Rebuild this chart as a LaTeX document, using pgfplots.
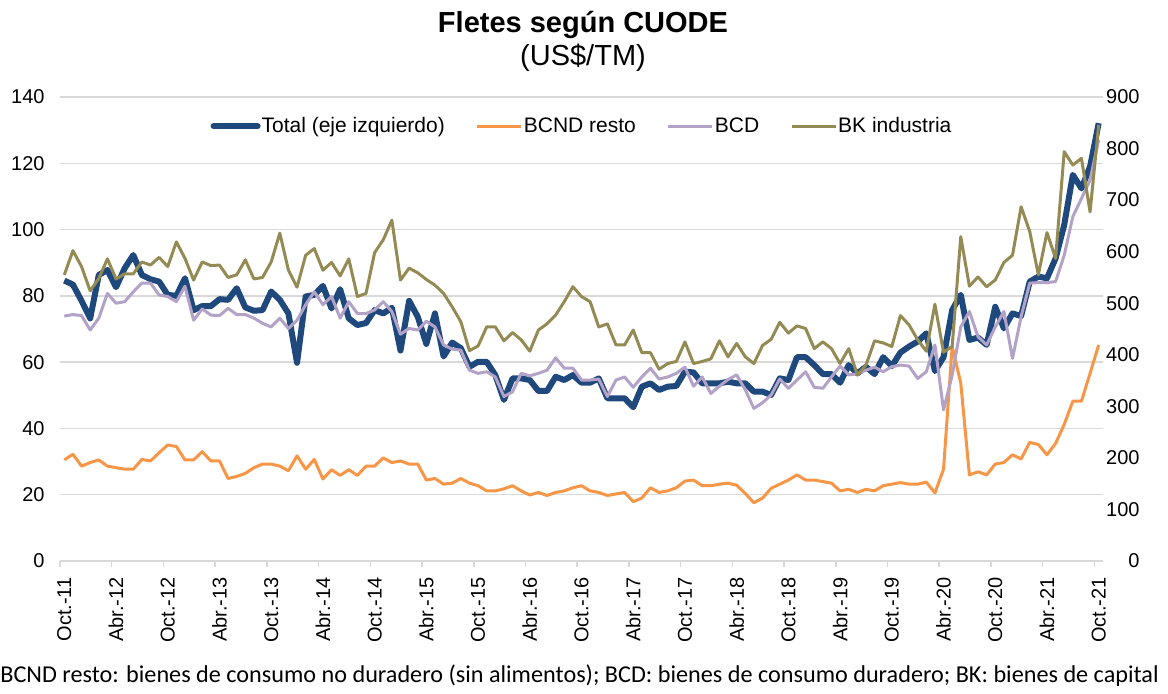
\documentclass[border=0pt]{standalone}
\usepackage{fontspec}
\setmainfont{Liberation Sans}
\newfontfamily\calibri{Carlito}
\usepackage{pgfplots}
\pgfplotsset{compat=1.18}
\usepackage{pgfplotstable}
\definecolor{ctotal}{RGB}{31,73,125}
\definecolor{cbcnd}{RGB}{247,150,70}
\definecolor{cbcd}{RGB}{179,162,199}
\definecolor{cbk}{RGB}{148,138,84}
\definecolor{cgrid}{RGB}{217,217,217}

\pgfplotstableread{
i total bcnd bcd bk
0 84.6 196 475 555
1 83.4 207 478 602
2 78.5 184 476 571
3 73.2 191 448 524
4 86.3 196 471 548
5 87.8 184 519 586
6 82.6 181 500 547
7 88.3 178 503 557
8 92.3 178 522 557
9 86.3 197 539 580
10 85.0 194 539 574
11 84.3 210 516 589
12 80.3 225 513 571
13 80.0 222 503 619
14 85.3 196 533 587
15 75.7 196 467 545
16 76.9 212 489 580
17 76.9 194 477 573
18 79.0 194 476 574
19 78.8 160 490 550
20 82.3 164 478 555
21 76.5 170 478 584
22 75.5 181 471 547
23 75.7 188 461 550
24 81.3 188 454 580
25 78.8 184 471 636
26 74.7 175 451 564
27 59.8 204 467 531
28 79.8 178 497 593
29 80.3 197 522 606
30 83.0 159 497 564
31 76.2 177 513 579
32 82.0 166 471 553
33 73.2 177 503 586
34 71.2 166 480 513
35 71.8 184 480 519
36 75.7 184 487 598
37 74.7 200 503 623
38 76.4 191 484 661
39 63.5 194 440 545
40 78.5 188 451 568
41 73.7 188 448 559
42 65.5 157 465 546
43 74.7 160 454 535
44 61.7 149 419 519
45 65.9 151 411 493
46 64.2 160 409 464
47 58.6 151 370 408
48 60.1 146 364 417
49 60.1 136 367 454
50 56.1 136 357 454
51 48.6 140 319 427
52 55.1 146 328 443
53 55.1 136 364 429
54 54.6 128 359 407
55 51.3 133 364 448
56 51.3 127 370 460
57 55.6 133 394 477
58 54.6 136 374 503
59 56.1 142 374 532
60 53.8 146 351 513
61 53.8 136 351 503
62 55.1 133 353 454
63 49.1 127 319 460
64 49.1 130 351 419
65 49.1 133 357 419
66 46.4 115 337 448
67 52.6 122 357 404
68 53.6 142 374 404
69 51.6 133 353 372
70 52.6 136 357 383
71 52.8 142 364 387
72 57.1 155 376 425
73 56.9 157 339 383
74 53.6 146 357 387
75 53.6 146 325 392
76 53.6 149 339 427
77 54.1 151 352 396
78 53.6 147 361 422
79 53.6 131 332 396
80 51.1 113 296 383
81 51.1 122 307 418
82 50.1 141 322 430
83 55.1 149 353 463
84 54.6 157 335 442
85 61.5 167 351 456
86 61.5 157 367 451
87 59.1 157 337 412
88 56.4 154 335 425
89 56.4 151 357 412
90 53.8 136 378 383
91 59.1 139 361 412
92 56.6 133 363 361
93 58.6 139 370 380
94 56.4 136 376 427
95 61.5 146 367 423
96 58.8 149 377 416
97 62.9 152 380 476
98 64.7 149 378 458
99 66.2 149 354 429
100 68.7 153 367 407
101 57.3 132 419 498
102 61.5 178 293 405
103 75.7 416 360 416
104 80.3 345 454 629
105 66.7 167 484 533
106 67.4 173 435 551
107 65.2 167 419 532
108 76.7 188 454 545
109 70.2 191 484 579
110 74.7 206 393 593
111 73.9 198 474 687
112 84.3 230 539 639
113 85.8 226 540 555
114 85.3 206 540 637
115 91.3 228 542 587
116 101.4 265 593 794
117 116.5 310 668 768
118 112.4 310 703 781
119 119.0 364 739 677
120 132.1 419 817 846
}\datatab

\pgfplotsset{
  base/.style={
    at={(30pt,66.5pt)}, anchor=south west, scale only axis,
    width=521.5pt, height=232pt,
    xmin=-0.5, xmax=120.5,
    tick label style={font=\fontsize{10}{12}\selectfont},
    /pgf/number format/assume math mode=true,
    axis line style={draw=none},
    major tick length=0pt,
    tick align=outside,
  }
}

\begin{document}
\begin{tikzpicture}
\path[use as bounding box] (0pt,0pt) rectangle (584pt,347pt);

\begin{axis}[base,
  axis x line*=bottom, axis y line*=left,
  ymin=0, ymax=140, ytick={0,20,...,140},
  ymajorgrids, grid style={draw=cgrid, line width=0.75pt},
  xtick={0,6,...,120},
  xticklabels={Oct.-11,Abr.-12,Oct.-12,Abr.-13,Oct.-13,Abr.-14,Oct.-14,Abr.-15,Oct.-15,Abr.-16,Oct.-16,Abr.-17,Oct.-17,Abr.-18,Oct.-18,Abr.-19,Oct.-19,Abr.-20,Oct.-20,Abr.-21,Oct.-21},
  xticklabel style={yshift=-8pt, rotate=90, anchor=east, inner sep=0pt},
  yticklabel style={anchor=east, inner sep=0pt, xshift=-7.5pt},
  extra x ticks={-0.5,5.5,...,119.5},
  extra x tick labels={},
  extra x tick style={major tick length=3pt, tick style={draw=cgrid, line width=0.75pt}},
]
\addplot[ctotal, line width=3pt, line join=round] table[x=i, y=total]{\datatab};
\end{axis}

\begin{axis}[base,
  axis x line=none, axis y line*=right,
  ymin=0, ymax=900, ytick={0,100,...,900},
  yticklabel style={anchor=east, inner sep=0pt, xshift=18.5pt},
  legend style={at={(0.5,0.937)}, anchor=center, draw=none, fill=none,
    font=\fontsize{10.5}{12}\selectfont, legend columns=4,
    /tikz/every even column/.append style={column sep=15pt},
    nodes={inner sep=0.5pt}},
  legend image code/.code={\draw[#1] (0pt,0pt) -- (22pt,0pt);},
]
\addlegendimage{ctotal, line width=3pt, line cap=round}
\addlegendentry{Total (eje izquierdo)}
\addplot[cbcnd, line width=1.5pt, line join=round] table[x=i, y=bcnd]{\datatab};
\addlegendentry{BCND resto}
\addplot[cbcd, line width=1.5pt, line join=round] table[x=i, y=bcd]{\datatab};
\addlegendentry{BCD}
\addplot[cbk, line width=1.5pt, line join=round] table[x=i, y=bk]{\datatab};
\addlegendentry{BK industria}
\end{axis}

\node[anchor=base] at (291.5pt,330.5pt) {\fontsize{14.5}{17}\selectfont\bfseries Fletes según CUODE};
\node[anchor=base] at (291.5pt,314pt) {\fontsize{14.5}{17}\selectfont (US\$/TM)};
\node[anchor=base west, inner sep=0pt] at (0pt,5.5pt) {\calibri\fontsize{12.1}{14}\selectfont BCND resto: bienes de consumo no duradero (sin alimentos); BCD: bienes de consumo duradero; BK: bienes de capital};
\end{tikzpicture}
\end{document}
